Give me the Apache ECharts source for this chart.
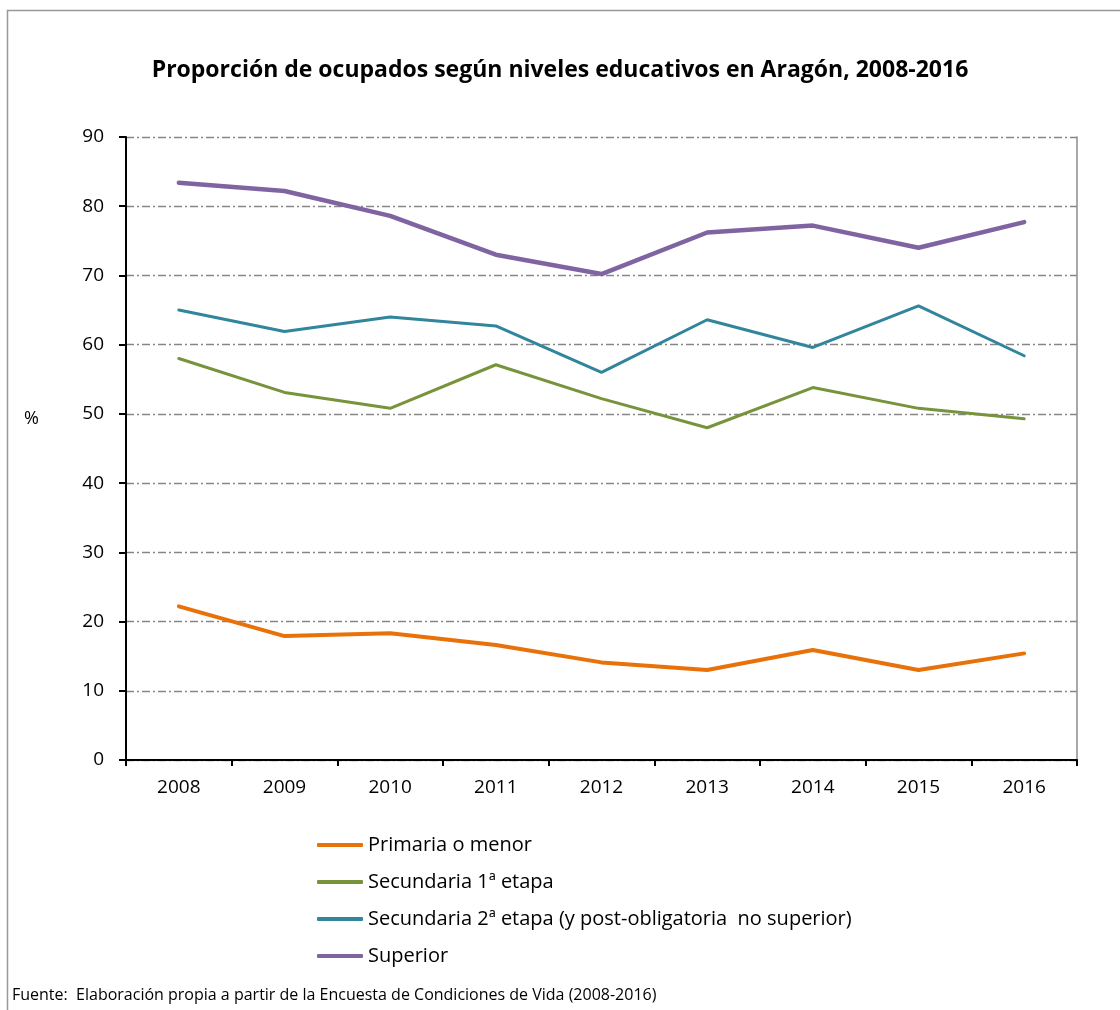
<!DOCTYPE html>
<html>
<head>
<meta charset="utf-8">
<style>
  html, body { margin: 0; padding: 0; background: #fff; }
  #chart { width: 1120px; height: 1010px; }
</style>
<script src="https://cdn.jsdelivr.net/npm/echarts@6/dist/echarts.min.js"></script>
</head>
<body>
<div id="chart"></div>
<script>
// Años de la serie
const years = ['2008', '2009', '2010', '2011', '2012', '2013', '2014', '2015', '2016'];

// Proporción de ocupados (%) por nivel educativo
const primaria = [22.2, 17.9, 18.3, 16.6, 14.1, 13.0, 15.9, 13.0, 15.4];
const secundaria1 = [58.0, 53.1, 50.8, 57.1, 52.2, 48.0, 53.8, 50.8, 49.3];
const secundaria2 = [65.0, 61.9, 64.0, 62.7, 56.0, 63.6, 59.6, 65.6, 58.4];
const superior = [83.4, 82.2, 78.6, 73.0, 70.2, 76.2, 77.2, 74.0, 77.7];

const seriesNames = [
  'Primaria o menor',
  'Secundaria 1ª etapa',
  'Secundaria 2ª etapa (y post-obligatoria  no superior)',
  'Superior'
];
const seriesColors = ['#E8710A', '#77933C', '#31859C', '#8064A2'];

const FONT = '"Open Sans", "Liberation Sans", sans-serif';

const chart = echarts.init(document.getElementById('chart'));

function lineSeries(i, data, width) {
  return {
    name: seriesNames[i],
    type: 'line',
    data: data,
    symbol: 'none',
    smooth: false,
    lineStyle: { color: seriesColors[i], width: width, cap: 'round', join: 'round' },
    itemStyle: { color: seriesColors[i] },
    emphasis: { disabled: true }
  };
}

chart.setOption({
  animation: false,
  backgroundColor: '#fff',
  title: {
    text: 'Proporción de ocupados según niveles educativos en Aragón, 2008-2016',
    left: 'center',
    top: 54,
    textStyle: { fontFamily: FONT, fontSize: 23, fontWeight: 'bold', color: '#000' }
  },
  grid: { left: 126, right: 43, top: 137, bottom: 250, containLabel: false },
  xAxis: {
    type: 'category',
    data: years,
    boundaryGap: true,
    axisLine: { lineStyle: { color: '#000', width: 2 } },
    axisTick: { show: true, length: 6, lineStyle: { color: '#000', width: 2 } },
    axisLabel: { fontFamily: FONT, fontSize: 19, color: '#000', margin: 18 }
  },
  yAxis: [
    {
      type: 'value',
      min: 0,
      max: 90,
      interval: 10,
      axisLine: { show: true, lineStyle: { color: '#000', width: 2 } },
      axisTick: { show: true, length: 7, lineStyle: { color: '#000', width: 2 } },
      axisLabel: { fontFamily: FONT, fontSize: 19, color: '#000', margin: 22 },
      splitLine: { show: true, lineStyle: { color: '#868686', width: 1.3, type: [8, 3, 2, 3] } }
    },
    {
      type: 'value',
      min: 0,
      max: 90,
      interval: 10,
      position: 'right',
      axisLine: { show: true, lineStyle: { color: '#8c8c8c', width: 1.5 } },
      axisTick: { show: false },
      axisLabel: { show: false },
      splitLine: { show: false }
    }
  ],
  legend: {
    orient: 'vertical',
    left: 312,
    top: 828,
    itemWidth: 46,
    itemHeight: 4,
    itemGap: 13,
    icon: 'roundRect',
    textStyle: { fontFamily: FONT, fontSize: 20, lineHeight: 24, color: '#000' },
    data: seriesNames
  },
  series: [
    lineSeries(0, primaria, 4),
    lineSeries(1, secundaria1, 3),
    lineSeries(2, secundaria2, 3),
    lineSeries(3, superior, 4.5)
  ],
  graphic: [
    {
      type: 'polyline',
      shape: { points: [[7.5, 1010], [7.5, 10.5], [1120, 10.5]] },
      style: { stroke: '#999', lineWidth: 1.5, fill: null },
      silent: true
    },
    {
      type: 'text',
      left: 24,
      top: 410,
      style: { text: '%', font: '18px "Open Sans", "Liberation Sans", sans-serif', fill: '#000' },
      silent: true
    },
    {
      type: 'text',
      left: 12,
      top: 987,
      style: {
        text: 'Fuente:  Elaboración propia a partir de la Encuesta de Condiciones de Vida (2008-2016)',
        font: '16px "Open Sans", "Liberation Sans", sans-serif',
        fill: '#000'
      },
      silent: true
    }
  ]
});
</script>
</body>
</html>
